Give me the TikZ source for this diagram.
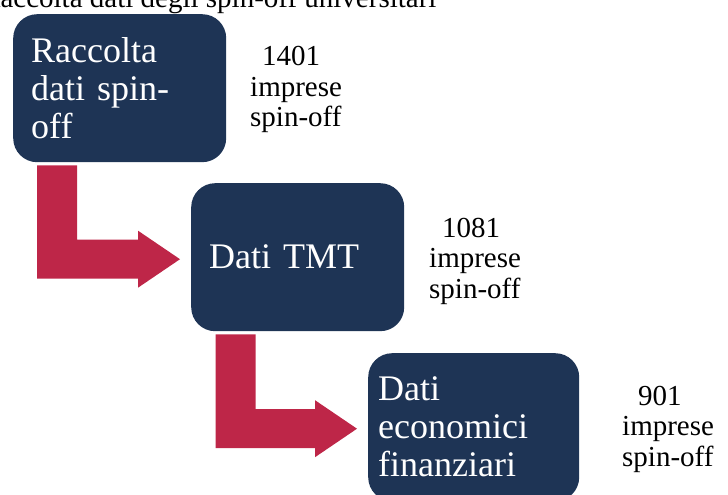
\documentclass[tikz,border=0pt]{standalone}
\usepackage{fontspec}
\setmainfont{Liberation Serif}
\usetikzlibrary{calc}

\definecolor{boxnavy}{RGB}{30,52,85}
\definecolor{flowred}{RGB}{190,38,72}

% Thick elbow arrow: vertical bar from #1 down, then right to the tip at #2
\newcommand\elbowarrow[2]{%
  \fill[flowred] let \p1=(#1), \p2=(#2) in
    (\x1-20pt,\y1) -- (\x1+20pt,\y1) -- (\x1+20pt,\y2+19.5pt)
    -- (\x2-42pt,\y2+19.5pt) -- (\x2-42pt,\y2+28.5pt) -- (\x2,\y2)
    -- (\x2-42pt,\y2-28.5pt) -- (\x2-42pt,\y2-19.5pt)
    -- (\x1-20pt,\y2-19.5pt) -- cycle;}

\begin{document}
\begin{tikzpicture}[x=1pt,y=-1pt,
  stage/.style={fill=boxnavy, rounded corners=24pt, text=white,
    font=\fontsize{36}{38}\selectfont, align=left, anchor=north west,
    minimum height=148pt, inner ysep=0pt},
  count/.style={font=\fontsize{29}{30.5}\selectfont, anchor=base west,
    inner sep=0pt, text=black}]
\useasboundingbox (0,0) rectangle (728,495);

% title line (partly outside the page)
\node[count] (title) at (-19,8) {Raccolta dati degli spin-off universitari};

% process stages
\node[stage, inner xsep=18pt, text width=177pt] (b1) at (13,14)
  {Raccolta\\dati spin-\\off};
\node[stage, inner xsep=18pt, text width=177pt] (b2) at (191,183)
  {Dati TMT};
\node[stage, inner xsep=10pt, text width=191pt] (b3) at (368,353)
  {Dati\\economici\\finanziari};

% number of firms after each stage
\node[count] (n1) at (250,66)
  {\vtop{\hbox{\hspace{12pt}1401}\hbox{imprese}\hbox{spin-off}}};
\node[count] (n2) at (429,237)
  {\vtop{\hbox{\hspace{13pt}1081}\hbox{imprese}\hbox{spin-off}}};
\node[count] (n3) at (622,405)
  {\vtop{\hbox{\hspace{16pt}901}\hbox{imprese}\hbox{spin-off}}};

% elbow arrows between stages
\coordinate (s1) at ($(b1.south west)+(44,3)$);
\coordinate (t1) at ($(b2.west)+(-11,2)$);
\coordinate (s2) at ($(b2.south west)+(44.5,3)$);
\coordinate (t2) at ($(b3.west)+(-11,1.5)$);
\elbowarrow{s1}{t1}
\elbowarrow{s2}{t2}
\end{tikzpicture}
\end{document}
